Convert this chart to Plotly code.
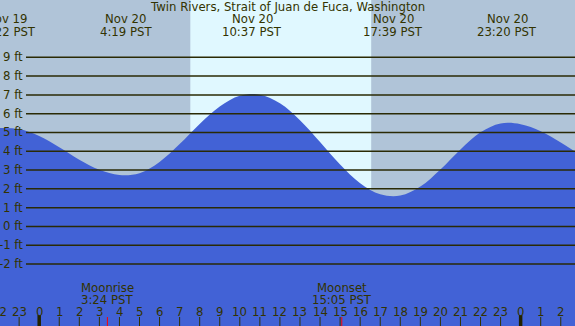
import plotly.graph_objects as go

# ---- data ----
hours = list(range(-2, 28))
levels = [5.24, 5.18, 4.81, 4.21, 3.55, 3.01, 2.73, 2.83, 3.43, 4.38, 5.45, 6.38, 6.95,
          7.01, 6.55, 5.65, 4.49, 3.29, 2.30, 1.71, 1.64, 2.12, 3.03, 4.10, 5.01, 5.48,
          5.44, 5.07, 4.47, 3.78]
extreme_dates = ["Nov 19", "Nov 20", "Nov 20", "Nov 20", "Nov 20"]
extreme_times = ["22:22", "4:19", "10:37", "17:39", "23:20"]
extreme_day_offset = [-1, 0, 0, 0, 0]
moon_names = ["Moonrise", "Moonset"]
moon_times = ["3:24", "15:05"]
sunrise, sunset = "7:32", "16:33"
y_ticks = list(range(-2, 10))
hour_ticks = list(range(-2, 27))

title = "Twin Rivers, Strait of Juan de Fuca, Washington"

# ---- styling ----
W, H = 575, 326
X0PX, PXH = 39.2, 20.06
XMIN, XMAX = -X0PX / PXH, (W - X0PX) / PXH
YMIN, YMAX = -5.30, 12.05
NIGHT = "#B0C4D8"
DAY = "#E0F8FF"
WATER = "#4262D6"
INK = "#333300"
FONT = "DejaVu Sans"
FS = 11.7


def t2h(t, off=0):
    hh, mm = t.split(":")
    return int(hh) + int(mm) / 60 + 24 * off


def ypaper(px):
    return 1 - px / H


fig = go.Figure()
fig.add_trace(go.Scatter(x=[XMIN - 1, XMAX + 1], y=[YMIN - 1, YMIN - 1], mode="lines",
                         line=dict(width=0), hoverinfo="skip", showlegend=False))
fig.add_trace(go.Scatter(x=hours, y=levels, mode="lines", line=dict(width=0, shape="spline", color=WATER),
                         fill="tonexty", fillcolor=WATER, showlegend=False))

shapes = []
shapes.append(dict(type="rect", xref="x", yref="paper", x0=t2h(sunrise), x1=t2h(sunset), y0=0, y1=1,
                   fillcolor=DAY, line=dict(width=0), layer="below"))
for v in y_ticks:
    shapes.append(dict(type="line", xref="paper", yref="y", x0=26 / W, x1=1, y0=v, y1=v,
                       line=dict(color="#2A2A05", width=1.5), layer="above"))
for h in hour_ticks:
    mid = (h % 24 == 0)
    shapes.append(dict(type="line", xref="x", yref="paper", x0=h, x1=h,
                       y0=0, y1=ypaper(315 if mid else 317),
                       line=dict(color="#222200" if mid else INK, width=3.5 if mid else 1), layer="above"))
for t in moon_times:
    shapes.append(dict(type="line", xref="x", yref="paper", x0=t2h(t), x1=t2h(t),
                       y0=0, y1=ypaper(317), line=dict(color="#FF0000", width=1), layer="above"))

ann = []
f = dict(family=FONT, size=FS, color=INK)
ann.append(dict(text=title, xref="paper", yref="paper", x=287 / W, y=ypaper(7), showarrow=False,
                font=f, xanchor="center", yanchor="middle"))
for d, t, o in zip(extreme_dates, extreme_times, extreme_day_offset):
    hx = t2h(t, o)
    ann.append(dict(text=d, xref="x", yref="paper", x=hx, y=ypaper(19.5), showarrow=False, font=f,
                    xanchor="center", yanchor="middle"))
    ann.append(dict(text=f"{t} PST", xref="x", yref="paper", x=hx, y=ypaper(32), showarrow=False, font=f,
                    xanchor="center", yanchor="middle"))
for v in y_ticks:
    ann.append(dict(text=f"{v} ft", xref="paper", yref="y", x=24.5 / W, y=v, showarrow=False, font=f,
                    xanchor="right", yanchor="middle"))
for n, t in zip(moon_names, moon_times):
    hx = t2h(t)
    ann.append(dict(text=n, xref="x", yref="paper", x=hx, y=ypaper(287.5), showarrow=False, font=f,
                    xanchor="center", yanchor="middle"))
    ann.append(dict(text=f"{t} PST", xref="x", yref="paper", x=hx, y=ypaper(299.5), showarrow=False, font=f,
                    xanchor="center", yanchor="middle"))
for h in hour_ticks:
    if XMIN <= h <= XMAX:
        ann.append(dict(text=str(h % 24), xref="x", yref="paper", x=h, y=ypaper(311.5), showarrow=False,
                        font=f, xanchor="center", yanchor="middle"))
    else:
        # label whose hour lies just outside the visible range: place it in paper units
        ann.append(dict(text=str(h % 24), xref="paper", yref="paper", x=(h - XMIN) / (XMAX - XMIN),
                        y=ypaper(311.5), showarrow=False, font=f, xanchor="center", yanchor="middle"))

fig.update_layout(
    width=W, height=H, autosize=False,
    margin=dict(l=0, r=0, t=0, b=0, pad=0),
    paper_bgcolor=NIGHT, plot_bgcolor=NIGHT,
    xaxis=dict(range=[XMIN, XMAX], visible=False, fixedrange=True),
    yaxis=dict(range=[YMIN, YMAX], visible=False, fixedrange=True),
    shapes=shapes, annotations=ann, showlegend=False,
)
fig.write_html("out.html", config={"displayModeBar": False})

with open("out.html", "r", encoding="utf-8") as fh:
    html = fh.read()
html = html.replace("<head>", "<head><style>html,body{margin:0;padding:0;overflow:hidden;}</style>", 1)
with open("out.html", "w", encoding="utf-8") as fh:
    fh.write(html)
